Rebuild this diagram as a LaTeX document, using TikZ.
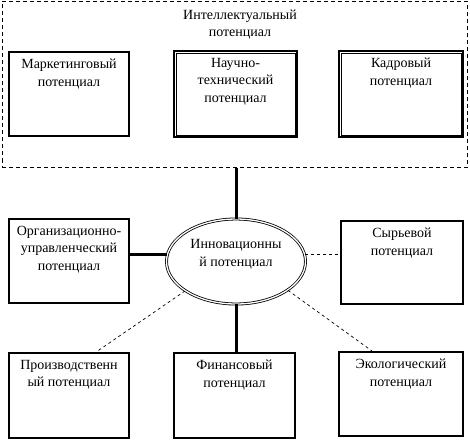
\documentclass[tikz,border=0pt]{standalone}
\usepackage{fontspec}
\setmainfont{Liberation Serif}
\usetikzlibrary{positioning,calc,shapes.geometric}

\tikzset{
  pbox/.style={draw, line width=2pt, minimum width=121pt, minimum height=85pt, inner sep=0pt},
  ptext/.style={anchor=north, align=center, inner sep=8pt, font=\fontsize{14}{17.5}\selectfont},
  intelbox/.style={draw, line width=0.8pt, dash pattern=on 4pt off 3pt, inner sep=0pt},
  ellbox/.style={ellipse, draw, double, double distance=1.3pt, line width=0.8pt,
    minimum width=139pt, minimum height=85pt, inner sep=0pt},
  link/.style={line width=3pt},
  weak/.style={line width=0.7pt, dash pattern=on 3pt off 3pt}
}

\begin{document}
\begin{tikzpicture}[x=1pt, y=-1pt]
\useasboundingbox (0,0) rectangle (470,441);
% intellectual block
\node[intelbox, minimum width=465pt, minimum height=166pt] (intel) at (234.5,84.5) {};
\node[ptext] (intel-t) at (240,1.5) {Интеллектуальный\\потенциал};
\node[pbox, minimum width=120pt, minimum height=84pt] (mark) at (69,94) {};
\node[ptext] (mark-t) at (mark.north) {Маркетинговый\\потенциал};
\node[pbox, minimum width=123pt, minimum height=86pt] (nauch) at (235.5,94) {};
\node[ptext] (nauch-t) at (nauch.north) {Научно-\\технический\\потенциал};
\node[pbox, minimum width=124pt, minimum height=86pt] (kadr) at (401,94) {};
\node[ptext] (kadr-t) at (kadr.north) {Кадровый\\потенциал};
% inner frames of the double boxes
\draw[line width=0.8pt] ([shift={(3,3)}]nauch.north west) rectangle ([shift={(-3,-3)}]nauch.south east);
\draw[line width=0.8pt] ([shift={(3,3)}]kadr.north west) rectangle ([shift={(-3,-3)}]kadr.south east);
% centre
\node[ellbox] (ell) at (236,261.5) {};
\node[ptext, below=13pt of ell.north] (ell-t) {Инновационны\\й потенциал};
% middle row
\node[pbox, minimum width=120pt, minimum height=84pt] (org) at (69,261) {};
\node[ptext] (org-t) at (org.north) {Организационно-\\управленческий\\потенциал};
\node[pbox, minimum width=122pt, minimum height=83pt] (syr) at (402,262.5) {};
\node[ptext] (syr-t) at (syr.north) {Сырьевой\\потенциал};
% bottom row
\node[pbox, minimum width=120pt] (proizv) at (69,395.5) {};
\node[ptext] (proizv-t) at (proizv.north) {Производственн\\ый потенциал};
\node[pbox] (fin) at (234.5,395.5) {};
\node[ptext] (fin-t) at (fin.north) {Финансовый\\потенциал};
\node[pbox, minimum width=124pt, minimum height=84pt] (eko) at (401,394) {};
\node[ptext] (eko-t) at (eko.north) {Экологический\\потенциал};
% connectors
\draw[link] (ell.north) -- (ell.north |- intel.south);
\draw[link] (ell.174) -- (ell.174 -| org.east);
\draw[link] (ell.south) -- (ell.south |- fin.north);
\draw[weak] (ell.6) -- (ell.6 -| syr.west);
\draw[weak] (ell.210) -- (proizv.58);
\draw[weak] (ell.331) -- (eko.124);
\end{tikzpicture}
\end{document}
